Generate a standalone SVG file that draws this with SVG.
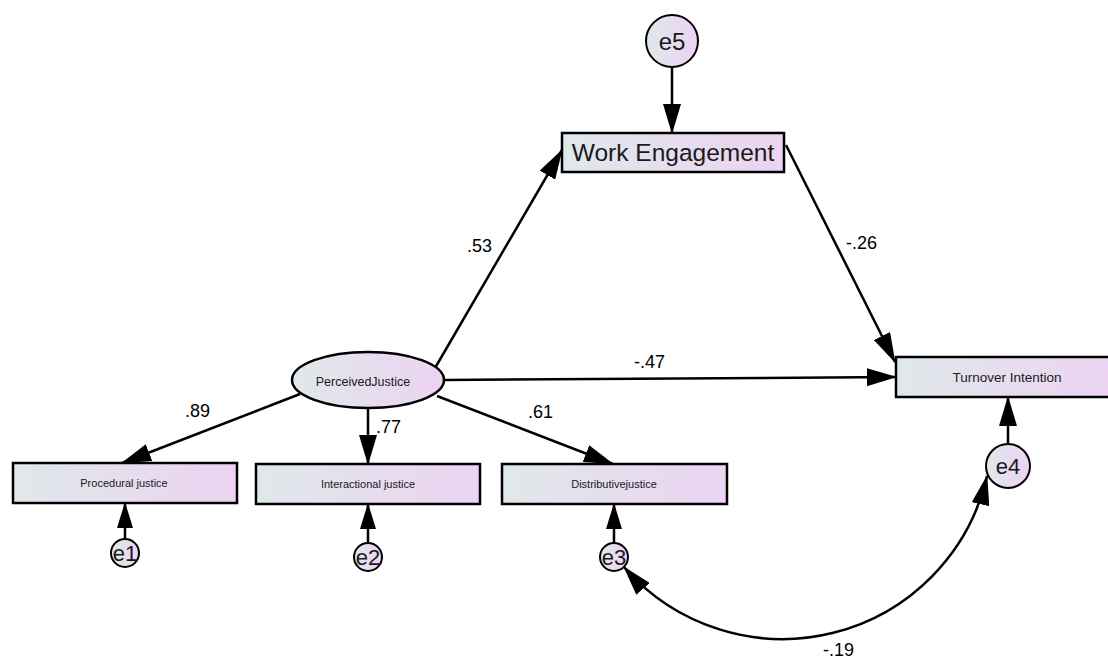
<svg xmlns="http://www.w3.org/2000/svg" width="1108" height="659" viewBox="0 0 1108 659">
  <defs>
    <linearGradient id="fill" x1="0" y1="0" x2="1" y2="0">
      <stop offset="0" stop-color="#e0e8ea"/>
      <stop offset="1" stop-color="#ecd3f2"/>
    </linearGradient>
    <marker id="head" markerUnits="userSpaceOnUse" markerWidth="30" markerHeight="18" refX="29" refY="9" orient="auto-start-reverse">
      <path d="M0,0 L30,9 L0,18 z" fill="#000"/>
    </marker>
    <marker id="headSmall" markerUnits="userSpaceOnUse" markerWidth="26" markerHeight="16" refX="25" refY="8" orient="auto-start-reverse">
      <path d="M0,0 L26,8 L0,16 z" fill="#000"/>
    </marker>
  </defs>
  <style>
    .box { fill: url(#fill); stroke: #000; stroke-width: 2.5; }
    .err { fill: url(#fill); stroke: #000; stroke-width: 2; }
    .lbl { font-family: "Liberation Sans", Arial, sans-serif; fill: #000; }
    .name { font-family: "Liberation Sans", Arial, sans-serif; fill: #1a1a1a; text-anchor: middle; }
    .edge { fill: none; stroke: #000; stroke-width: 2.5; marker-end: url(#head); }
    .edgeS { fill: none; stroke: #000; stroke-width: 2.5; marker-end: url(#headSmall); }
  </style>
  <rect width="1108" height="659" fill="#fff"/>

  <g id="connectors">
    <line class="edge" x1="672" y1="68" x2="672" y2="133"/>
    <line class="edge" x1="435" y1="368" x2="562" y2="150"/>
    <line class="edge" x1="786" y1="145" x2="895" y2="362"/>
    <line class="edge" x1="444" y1="380" x2="896" y2="377"/>
    <line class="edge" x1="300" y1="394" x2="122" y2="463"/>
    <line class="edge" x1="368" y1="409" x2="368" y2="464"/>
    <line class="edge" x1="437" y1="396" x2="613" y2="464"/>
    <line class="edgeS" x1="125" y1="539" x2="125" y2="503"/>
    <line class="edgeS" x1="368" y1="543" x2="368" y2="504"/>
    <line class="edgeS" x1="614" y1="543" x2="614" y2="504"/>
    <line class="edge" x1="1008" y1="444" x2="1008" y2="397"/>
    <path class="edge" d="M 624 567 A 210 210 0 0 0 987 476" marker-start="url(#head)"/>
    <text class="lbl" x="467" y="252" font-size="18">.53</text>
    <text class="lbl" x="846" y="249" font-size="18">-.26</text>
    <text class="lbl" x="634" y="368" font-size="18">-.47</text>
    <text class="lbl" x="185" y="417" font-size="18">.89</text>
    <text class="lbl" x="376" y="433" font-size="18">.77</text>
    <text class="lbl" x="528" y="418" font-size="18">.61</text>
    <text class="lbl" x="823" y="656" font-size="18">-.19</text>
  </g>

  <g id="e5">
    <circle class="err" cx="672" cy="41" r="26"/>
    <text class="name" x="672" y="50" font-size="24">e5</text>
  </g>

  <g id="work-engagement">
    <rect class="box" x="562" y="133" width="222" height="39"/>
    <text class="name" x="673" y="161" font-size="24.5">Work Engagement</text>
  </g>

  <g id="perceived-justice">
    <ellipse class="box" cx="368" cy="380" rx="76" ry="28"/>
    <text class="name" x="363" y="386" font-size="12.5">PerceivedJustice</text>
  </g>

  <g id="turnover-intention">
    <rect class="box" x="896" y="357" width="222" height="40"/>
    <text class="name" x="1007" y="382" font-size="13.5">Turnover Intention</text>
  </g>

  <g id="procedural-justice">
    <rect class="box" x="13" y="463" width="224" height="40"/>
    <text class="name" x="124" y="487" font-size="11">Procedural justice</text>
  </g>

  <g id="interactional-justice">
    <rect class="box" x="256" y="464" width="224" height="40"/>
    <text class="name" x="368" y="488" font-size="11">Interactional justice</text>
  </g>

  <g id="distributive-justice">
    <rect class="box" x="502" y="464" width="225" height="40"/>
    <text class="name" x="614" y="488" font-size="11">Distributivejustice</text>
  </g>

  <g id="e1">
    <circle class="err" cx="125" cy="553" r="14"/>
    <text class="name" x="125" y="561" font-size="22">e1</text>
  </g>

  <g id="e2">
    <circle class="err" cx="368" cy="557" r="14"/>
    <text class="name" x="368" y="565" font-size="22">e2</text>
  </g>

  <g id="e3">
    <circle class="err" cx="614" cy="557" r="14"/>
    <text class="name" x="614" y="565" font-size="22">e3</text>
  </g>

  <g id="e4">
    <circle class="err" cx="1008" cy="466" r="22"/>
    <text class="name" x="1008" y="474" font-size="22">e4</text>
  </g>
</svg>
